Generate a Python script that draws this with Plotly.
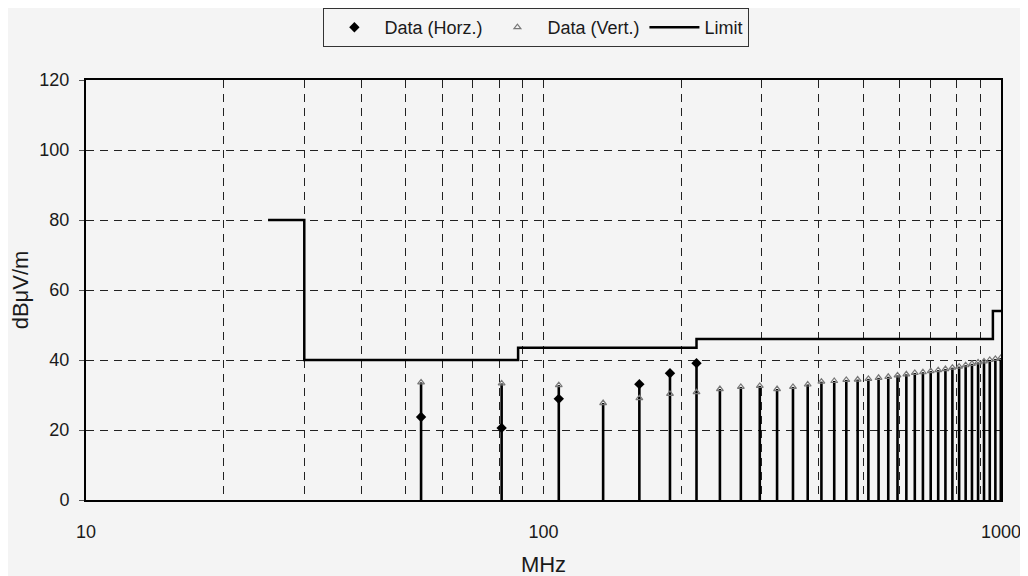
import plotly.graph_objects as go

# Harmonic frequencies (MHz)
freq = [54, 81, 108, 135, 162, 189, 216, 243, 270, 297, 324, 351, 378, 405,
        432, 459, 486, 513, 540, 567, 594, 621, 648, 675, 702, 729, 756, 783,
        810, 837, 864, 891, 918, 945, 972, 999]
# Vertical polarisation readings (dBuV/m)
vert = [33.6, 33.3, 32.8, 27.7, 29.1, 30.3, 30.8, 31.7, 32.3, 32.6, 31.7, 32.3,
        33.0, 33.8, 34.0, 34.3, 34.4, 34.6, 34.9, 35.2, 35.6, 35.9, 36.3, 36.5,
        36.8, 37.1, 37.4, 37.8, 38.1, 38.5, 38.9, 39.3, 39.6, 40.0, 40.3, 40.6]
# Horizontal polarisation readings (only where measured)
horz_freq = [54, 81, 108, 162, 189, 216]
horz = [23.7, 20.6, 28.9, 33.1, 36.2, 39.1]

# Limit line (step)
limit_freq = [25, 30, 88, 216, 960, 1000]
limit_val = [80, 40, 43.5, 46, 54, 54]

# Stem tops = max of available readings
hmap = dict(zip(horz_freq, horz))
stem_top = [max(v, hmap.get(f, 0)) for f, v in zip(freq, vert)]
sx, sy = [], []
for f, t in zip(freq, stem_top):
    sx += [f, f, None]
    sy += [0, t, None]

font = "Liberation Sans, Arial, sans-serif"
fig = go.Figure()
fig.add_trace(go.Scatter(x=sx, y=sy, mode="lines", line=dict(color="black", width=2.6),
                         showlegend=False, hoverinfo="skip"))
fig.add_trace(go.Scatter(x=horz_freq, y=horz, mode="markers", name="Data (Horz.)",
                         marker=dict(symbol="diamond", size=8, color="black")))
fig.add_trace(go.Scatter(x=freq, y=vert, mode="markers", name="Data (Vert.)",
                         marker=dict(symbol="triangle-up-open", size=6, color="#777777",
                                     line=dict(width=1.2))))
fig.add_trace(go.Scatter(x=limit_freq, y=limit_val, mode="lines", name="Limit",
                         line=dict(color="black", width=2.5, shape="hv")))

grid = dict(showgrid=True, gridcolor="#222222", gridwidth=1, griddash="8px,6px")
fig.update_layout(
    width=1028, height=576,
    margin=dict(l=78, r=35, t=72, b=84, autoexpand=False),
    paper_bgcolor="#f4f4f4", plot_bgcolor="#f4f4f4",
    font=dict(family=font, size=18, color="#1a1a1a"),
    legend=dict(orientation="h", x=0.514, xanchor="center", xref="container",
                y=1.0, yanchor="top", yref="container",
                bordercolor="#333333", borderwidth=1, bgcolor="#f4f4f4",
                font=dict(size=18), itemwidth=50),
    xaxis=dict(type="log", range=[1, 3], tickvals=[10, 100, 1000],
               ticktext=["10", "100", "1000"], ticks="", **grid,
               minor=dict(dtick="D1", showgrid=True, gridcolor="#222222", gridwidth=1,
                          griddash="8px,6px", ticks=""),
               showline=True, linecolor="black", linewidth=2, mirror=True,
               zeroline=False, ticklabelstandoff=14,
               title=dict(text="MHz", standoff=16)),
    yaxis=dict(range=[0, 120], dtick=20, ticks="outside", ticklen=5, tickcolor="#555555",
               **grid, showline=True, linecolor="black", linewidth=2, mirror=True,
               zeroline=False, ticklabelstandoff=6,
               title=dict(text="dBμV/m", standoff=14)),
)
fig.write_html("out.html")
